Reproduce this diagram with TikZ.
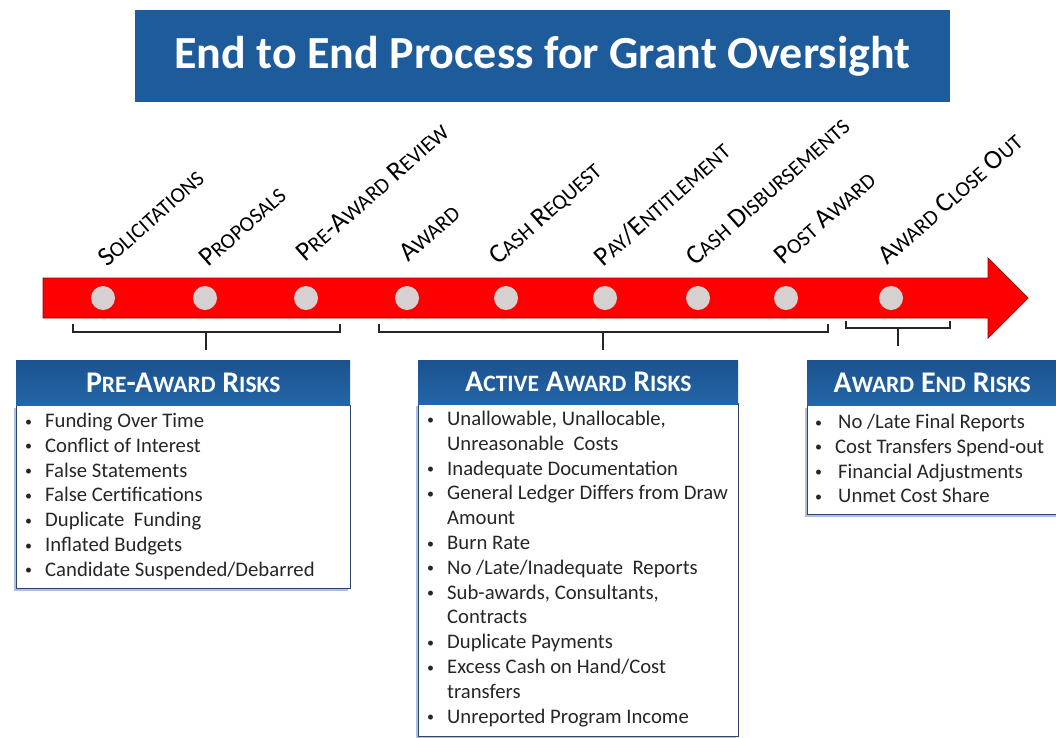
\documentclass[tikz,border=0pt]{standalone}
\usepackage{fontspec}
\setmainfont{Carlito}
\usetikzlibrary{shadows}
\definecolor{titleblue}{RGB}{30,91,154}
\definecolor{hdrtop}{RGB}{27,82,142}
\definecolor{hdrbot}{RGB}{36,102,168}
\definecolor{arrowred}{RGB}{255,0,0}
\definecolor{arrowedge}{RGB}{150,0,0}
\definecolor{dotgray}{RGB}{214,208,208}
\definecolor{bodytext}{RGB}{38,38,38}
\definecolor{boxedge}{RGB}{40,70,110}
\definecolor{shadowblue}{RGB}{120,150,200}
\newcommand\lsc[1]{{\fontsize{21.5}{21.5}\selectfont #1}}
\newcommand\hsc[1]{{\fontsize{23.5}{23.5}\selectfont #1}}
\newcommand\bul{\raisebox{1.5pt}{\fontsize{14}{14}\selectfont\textbullet}}
\newcommand\itm{\makebox[20pt][l]{\bul}}
\newcommand\cnt{\makebox[20pt][l]{}}
\begin{document}
\begin{tikzpicture}[x=1pt,y=-1pt,
  titlebox/.style={fill=titleblue, draw=none, text=white, inner sep=0,
    font=\fontsize{46}{46}\selectfont\bfseries},
  stage/.style={anchor=base west, rotate=41.5, inner sep=0,
    font=\fontsize{27}{27}\selectfont, text=black},
  dot/.style={circle, fill=dotgray, minimum size=24pt, inner sep=0},
  hdr/.style={anchor=north west, top color=hdrtop, bottom color=hdrbot, draw=none,
    text=white, inner sep=0, font=\fontsize{30}{30}\selectfont\bfseries},
  body/.style={anchor=north west, fill=white, draw=boxedge, line width=0.8pt, inner sep=0,
    drop shadow={shadow xshift=-2pt, shadow yshift=-2.5pt, fill=shadowblue, opacity=0.6}},
  items/.style={anchor=north west, inner sep=0, align=left, text=bodytext,
    font=\fontsize{20.7}{24.8}\selectfont},
  brk/.style={draw=black!85, line width=1.8pt},
]
\useasboundingbox (0,0) rectangle (1056,737);
\fill[white] (0,0) rectangle (1056,737);

% title
\node[titlebox, minimum width=815pt, minimum height=92pt] (title) at (542.5,56)
  {End to End Process for Grant Oversight};

% arrow band
\draw[fill=arrowred, draw=arrowedge, line width=0.7pt]
  (43,278) -- (988,278) -- (988,258) -- (1028,298) -- (988,338) -- (988,318) -- (43,318) -- cycle;

% dots
\node[dot] (d1) at (103,298) {};
\node[dot] (d2) at (205,298) {};
\node[dot] (d3) at (306,298) {};
\node[dot] (d4) at (407,298) {};
\node[dot] (d5) at (506,298) {};
\node[dot] (d6) at (605,298) {};
\node[dot] (d7) at (698,298) {};
\node[dot] (d8) at (786,298) {};
\node[dot] (d9) at (891,298) {};

% stage labels
\node[stage] (l1) at (107,268) {S\lsc{OLICITATIONS}};
\node[stage] (l2) at (208,268) {P\lsc{ROPOSALS}};
\node[stage] (l3) at (305,263) {P\lsc{RE}-A\lsc{WARD} R\lsc{EVIEW}};
\node[stage] (l4) at (408,263) {A\lsc{WARD}};
\node[stage] (l5) at (498,266) {C\lsc{ASH} R\lsc{EQUEST}};
\node[stage] (l6) at (603,268) {P\lsc{AY}/E\lsc{NTITLEMENT}};
\node[stage] (l7) at (695,267) {C\lsc{ASH} D\lsc{ISBURSEMENTS}};
\node[stage] (l8) at (783,266) {P\lsc{OST} A\lsc{WARD}};
\node[stage] (l9) at (887,266) {A\lsc{WARD} C\lsc{LOSE} O\lsc{UT}};

% brackets
\coordinate (b1l) at (73,324);  \coordinate (b1r) at (340,324);
\coordinate (b1m) at (206,332); \coordinate (b1s) at (206,350);
\draw[brk] (b1l) -- (73,332) -- (340,332) -- (b1r);
\draw[brk] (b1m) -- (b1s);
\coordinate (b2l) at (379,324); \coordinate (b2r) at (828,324);
\coordinate (b2m) at (603,332); \coordinate (b2s) at (603,350);
\draw[brk] (b2l) -- (379,332) -- (828,332) -- (b2r);
\draw[brk] (b2m) -- (b2s);
\coordinate (b3l) at (846,321); \coordinate (b3r) at (950,321);
\coordinate (b3m) at (898,328); \coordinate (b3s) at (898,346);
\draw[brk] (b3l) -- (846,328) -- (950,328) -- (b3r);
\draw[brk] (b3m) -- (b3s);

% Pre-award box
\node[body, minimum width=334pt, minimum height=183pt] (pb) at (16,405) {};
\node[hdr, minimum width=334pt, minimum height=45pt] (ph) at (16,360)
  {P\hsc{RE}-A\hsc{WARD} R\hsc{ISKS}};
\node[items] (pi) at (25,413) {\itm Funding Over Time\\
\itm Conflict of Interest\\
\itm False Statements\\
\itm False Certifications\\
\itm Duplicate\ \ Funding\\
\itm Inflated Budgets\\
\itm Candidate Suspended/Debarred};

% Active award box
\node[body, minimum width=320pt, minimum height=333pt] (ab) at (418,403) {};
\node[hdr, minimum width=320pt, minimum height=44pt] (ah) at (418,360)
  {A\hsc{CTIVE} A\hsc{WARD} R\hsc{ISKS}};
\node[items] (ai) at (427,411) {\itm Unallowable, Unallocable,\\
\cnt Unreasonable\ \ Costs\\
\itm Inadequate Documentation\\
\itm General Ledger Differs from Draw\\
\cnt Amount\\
\itm Burn Rate\\
\itm No /Late/Inadequate\ \ Reports\\
\itm Sub-awards, Consultants,\\
\cnt Contracts\\
\itm Duplicate Payments\\
\itm Excess Cash on Hand/Cost\\
\cnt transfers\\
\itm Unreported Program Income};

% Award end box
\node[body, minimum width=262pt, minimum height=109pt] (eb) at (807,405) {};
\node[hdr, minimum width=262pt, minimum height=45pt] (eh) at (807,360)
  {\hspace{-12pt}A\hsc{WARD} E\hsc{ND} R\hsc{ISKS}};
\node[items] (ei) at (815,414) {\itm\hspace{3pt}No /Late Final Reports\\
\itm Cost Transfers Spend-out\\
\itm\hspace{3pt}Financial Adjustments\\
\itm\hspace{3pt}Unmet Cost Share};
\end{tikzpicture}
\end{document}
